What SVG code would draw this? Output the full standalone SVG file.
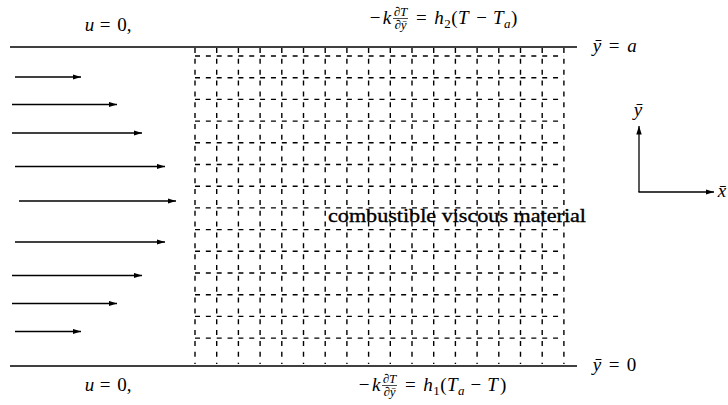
<svg xmlns="http://www.w3.org/2000/svg" width="728" height="405" viewBox="0 0 728 405">
<style>
text{font-family:"Liberation Serif","DejaVu Serif",serif;fill:#000;font-size:19px}
.c{text-anchor:middle}
.i{font-style:italic}
.s{font-size:13px}
.wall{stroke:#000;stroke-width:1.6;fill:none}
.flow{stroke:#000;stroke-width:1.3;fill:none;marker-end:url(#ah)}
.grid line{stroke:#000;stroke-width:1.4;stroke-dasharray:5 5.85}
.bar{stroke:#000;stroke-width:0.7}
.lbl{stroke:#000;stroke-width:0.35}
</style>
<defs>
<marker id="ah" markerWidth="9" markerHeight="6" refX="8.5" refY="2.75" orient="auto" markerUnits="userSpaceOnUse">
<path d="M0,0 L8.5,2.75 L0,5.5 Z" fill="#000"/>
</marker>
</defs>
<rect width="728" height="405" fill="#fff"/>

<g id="walls">
<line class="wall" x1="10" y1="47" x2="577" y2="47"/>
<line class="wall" x1="10" y1="366" x2="577" y2="366"/>
</g>

<g id="grid" class="grid">
<line x1="195" y1="48" x2="195" y2="364"/>
<line x1="216.7" y1="48" x2="216.7" y2="364"/>
<line x1="238.4" y1="48" x2="238.4" y2="364"/>
<line x1="260.1" y1="48" x2="260.1" y2="364"/>
<line x1="281.8" y1="48" x2="281.8" y2="364"/>
<line x1="303.5" y1="48" x2="303.5" y2="364"/>
<line x1="325.2" y1="48" x2="325.2" y2="364"/>
<line x1="346.9" y1="48" x2="346.9" y2="364"/>
<line x1="368.6" y1="48" x2="368.6" y2="364"/>
<line x1="390.3" y1="48" x2="390.3" y2="364"/>
<line x1="412" y1="48" x2="412" y2="364"/>
<line x1="433.7" y1="48" x2="433.7" y2="364"/>
<line x1="455.4" y1="48" x2="455.4" y2="364"/>
<line x1="477.1" y1="48" x2="477.1" y2="364"/>
<line x1="498.8" y1="48" x2="498.8" y2="364"/>
<line x1="520.5" y1="48" x2="520.5" y2="364"/>
<line x1="542.2" y1="48" x2="542.2" y2="364"/>
<line x1="563.9" y1="48" x2="563.9" y2="364"/>
<line x1="195" y1="56" x2="564" y2="56"/>
<line x1="195" y1="77.7" x2="564" y2="77.7"/>
<line x1="195" y1="99.4" x2="564" y2="99.4"/>
<line x1="195" y1="121.1" x2="564" y2="121.1"/>
<line x1="195" y1="142.8" x2="564" y2="142.8"/>
<line x1="195" y1="164.5" x2="564" y2="164.5"/>
<line x1="195" y1="186.2" x2="564" y2="186.2"/>
<line x1="195" y1="207.9" x2="564" y2="207.9"/>
<line x1="195" y1="229.6" x2="564" y2="229.6"/>
<line x1="195" y1="251.3" x2="564" y2="251.3"/>
<line x1="195" y1="273" x2="564" y2="273"/>
<line x1="195" y1="294.7" x2="564" y2="294.7"/>
<line x1="195" y1="316.4" x2="564" y2="316.4"/>
<line x1="195" y1="338.1" x2="564" y2="338.1"/>
</g>

<g id="velocity-arrows">
<line class="flow" x1="15" y1="77" x2="81" y2="77"/>
<line class="flow" x1="12" y1="104.5" x2="117" y2="104.5"/>
<line class="flow" x1="12" y1="133" x2="142" y2="133"/>
<line class="flow" x1="15" y1="166.5" x2="165" y2="166.5"/>
<line class="flow" x1="19" y1="201" x2="176" y2="201"/>
<line class="flow" x1="15" y1="242" x2="165" y2="242"/>
<line class="flow" x1="12" y1="275.5" x2="142" y2="275.5"/>
<line class="flow" x1="12" y1="303.5" x2="117" y2="303.5"/>
<line class="flow" x1="15" y1="331.5" x2="81" y2="331.5"/>
</g>

<g id="axes">
<line class="flow" x1="639" y1="192" x2="639" y2="126"/>
<line class="flow" x1="638.4" y1="192" x2="714" y2="192"/>
<text class="i c" x="638" y="116">ȳ</text>
<text class="i c" x="722" y="197">x̄</text>
</g>

<g id="material-label">
<text class="lbl" x="328" y="222" textLength="258" lengthAdjust="spacingAndGlyphs">combustible viscous material</text>
</g>

<g id="top-bc">
<text class="c" y="31"><tspan class="i" x="89.5">u</tspan><tspan x="105">=</tspan><tspan x="122">0</tspan><tspan x="129">,</tspan></text>
<text class="c" y="24"><tspan x="375">−</tspan><tspan class="i" x="387">k</tspan><tspan x="421.3">=</tspan><tspan class="i" x="439">h</tspan><tspan class="s" x="447.6" y="27.5">2</tspan><tspan x="454.4" y="24">(</tspan><tspan class="i" x="463.4">T</tspan><tspan x="481.6">−</tspan><tspan class="i" x="498.3">T</tspan><tspan class="s i" x="507.2" y="27.5">a</tspan><tspan x="514.2" y="24">)</tspan></text>
<text class="s c" x="400.5" y="15.5">∂<tspan class="i">T</tspan></text>
<line class="bar" x1="393" y1="18.5" x2="408" y2="18.5"/>
<text class="s c" x="400.5" y="29">∂<tspan class="i">ȳ</tspan></text>
<text class="c" y="52"><tspan class="i" x="597">ȳ</tspan><tspan x="614">=</tspan><tspan class="i" x="632">a</tspan></text>
</g>

<g id="bottom-bc">
<text class="c" y="391"><tspan class="i" x="89.5">u</tspan><tspan x="105">=</tspan><tspan x="122">0</tspan><tspan x="129">,</tspan></text>
<text class="c" y="391"><tspan x="364.2">−</tspan><tspan class="i" x="376.2">k</tspan><tspan x="410.3">=</tspan><tspan class="i" x="428">h</tspan><tspan class="s" x="436.6" y="394.5">1</tspan><tspan x="443.4" y="391">(</tspan><tspan class="i" x="452.4">T</tspan><tspan class="s i" x="461.2" y="394.5">a</tspan><tspan x="475.9" y="391">−</tspan><tspan class="i" x="492.6">T</tspan><tspan x="503.1">)</tspan></text>
<text class="s c" x="389.5" y="382.5">∂<tspan class="i">T</tspan></text>
<line class="bar" x1="382" y1="385.5" x2="397" y2="385.5"/>
<text class="s c" x="389.5" y="396">∂<tspan class="i">ȳ</tspan></text>
<text class="c" y="371"><tspan class="i" x="597">ȳ</tspan><tspan x="614">=</tspan><tspan x="631.5">0</tspan></text>
</g>
</svg>
